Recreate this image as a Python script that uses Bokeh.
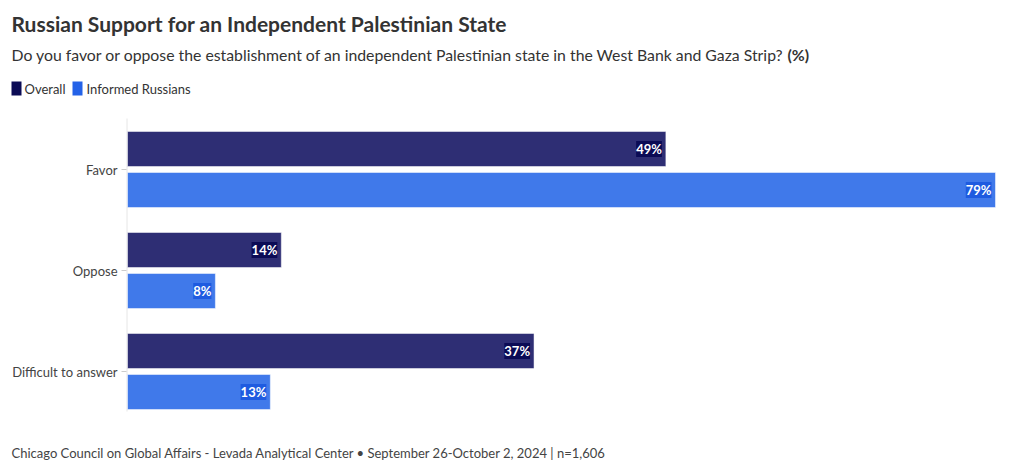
from bokeh.plotting import figure
from bokeh.models import Range1d, ColumnDataSource
from bokeh.transform import dodge
from bokeh.core.properties import value
from bokeh.embed import file_html
from bokeh.resources import INLINE

categories = ["Favor", "Oppose", "Difficult to answer"]
overall = [49, 14, 37]
informed = [79, 8, 13]
series_names = ["Overall", "Informed Russians"]

FONT = "Lato"
W, H = 1018, 469
FL, FR, FT, FB = 127, 995, 118, 411   # plot-area edges on the canvas (px)
GROUP_PX = 101                         # px between category centres
FIRST_PX = 169                         # px of first category centre
DARK = "#2E2E74"
LIGHT = "#4079EA"
DARK_SW = "#0B0B55"
LIGHT_SW = "#2462E8"
TXT = "#333333"

xmax = max(overall + informed)
k = xmax / (FR - FL)  # data units per px

p = figure(width=W, height=H, output_backend="svg", toolbar_location=None,
           x_range=Range1d(-FL * k, xmax + (W - FR) * k),
           y_range=Range1d((H - FIRST_PX) / GROUP_PX, -FIRST_PX / GROUP_PX),
           min_border=0, outline_line_color=None)
p.axis.visible = False
p.grid.visible = False
p.extra_x_ranges = {"px": Range1d(0, W)}
p.extra_y_ranges = {"px": Range1d(H, 0)}

pos = list(range(len(categories)))
src = ColumnDataSource(dict(
    y=pos, cat=categories, overall=overall, informed=informed,
    olab=[f"{v}%" for v in overall], ilab=[f"{v}%" for v in informed],
))

# axis line, ticks and category labels
p.segment(x0=[FL - 0.5], x1=[FL - 0.5], y0=[FT], y1=[FB], x_range_name="px", y_range_name="px",
          line_color="#E6E6E6", line_width=1)
p.segment(x0=FL - 6, x1=FL - 1, y0="y", y1="y", source=src, x_range_name="px",
          line_color="#CCCCCC", line_width=1)
p.text(x=FL - 10, y="y", text="cat", source=src, x_range_name="px",
       text_align="right", text_baseline="middle", text_color="#444444",
       text_font=value(FONT), text_font_size="13px")

# bars
off = 0.203
bh = 0.347
p.hbar(y=dodge("y", -off), right="overall", left=0, height=bh, source=src,
       fill_color=DARK, line_color="white", line_alpha=0.5)
p.hbar(y=dodge("y", off), right="informed", left=0, height=bh, source=src,
       fill_color=LIGHT, line_color="white", line_alpha=0.5)

# value labels
p.text(x="overall", y=dodge("y", -off), text="olab", source=src, x_offset=-4,
       text_align="right", text_baseline="middle", text_color="white",
       text_font=value(FONT), text_font_style="bold", text_font_size="13px",
       background_fill_color="#0B0B55", padding=0)
p.text(x="informed", y=dodge("y", off), text="ilab", source=src, x_offset=-4,
       text_align="right", text_baseline="middle", text_color="white",
       text_font=value(FONT), text_font_style="bold", text_font_size="13px",
       background_fill_color="#1E5BE0", padding=0)

# header
p.text(x=[11], y=[23], text=["Russian Support for an Independent Palestinian State"],
       x_range_name="px", y_range_name="px",
       text_font=value(FONT), text_font_size="21px", text_font_style="bold",
       text_color=TXT, text_baseline="middle")
p.text(x=[11], y=[54], text=["Do you favor or oppose the establishment of an independent Palestinian state in the West Bank and Gaza Strip?"],
       x_range_name="px", y_range_name="px",
       text_font=value(FONT), text_font_size="15.8px", text_color=TXT, text_baseline="middle")
p.text(x=[787], y=[54], text=["(%)"], x_range_name="px", y_range_name="px",
       text_font=value(FONT), text_font_size="15.8px", text_font_style="bold",
       text_color=TXT, text_baseline="middle")

# legend
sw_left = [11, 72]
lab_left = [24, 86]
p.quad(left=sw_left, right=[x + 10 for x in sw_left], top=[81, 81], bottom=[95, 95],
       x_range_name="px", y_range_name="px",
       fill_color=[DARK_SW, LIGHT_SW], line_color=None)
p.text(x=lab_left, y=[88, 88], text=series_names, x_range_name="px", y_range_name="px",
       text_font=value(FONT), text_font_size="13px", text_color=TXT, text_baseline="middle")

# footnote
p.text(x=[11], y=[452], text=["Chicago Council on Global Affairs - Levada Analytical Center • September 26-October 2, 2024 | n=1,606"],
       x_range_name="px", y_range_name="px",
       text_font=value(FONT), text_font_size="13px", text_color="#444444", text_baseline="middle")

open("out.html", "w").write(file_html(p, INLINE))
